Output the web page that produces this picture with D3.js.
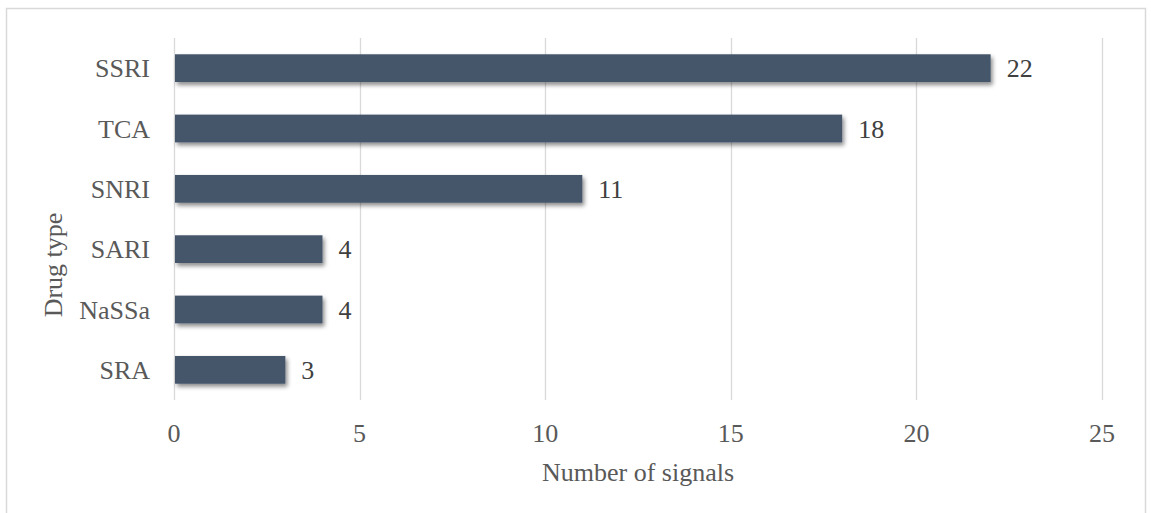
<!DOCTYPE html>
<html>
<head>
<meta charset="utf-8">
<script src="https://cdn.jsdelivr.net/npm/d3@7"></script>
<style>
  body { margin: 0; background: #fff; }
  text { font-family: "Liberation Serif", "Times New Roman", serif; }
</style>
</head>
<body>
<div id="plotDiv"></div>
<script>
var drugTypes = ["SSRI", "TCA", "SNRI", "SARI", "NaSSa", "SRA"];
var signalCounts = [22, 18, 11, 4, 4, 3];
var xTicks = [0, 5, 10, 15, 20, 25];

window.addEventListener("load", makeChart);

function makeChart() {
    var widthSVG = 1151, heightSVG = 513;
    var margin = {top: 38, right: 49, bottom: 113, left: 174};
    var fontSize = 26;

    var svg = d3.select("#plotDiv")
        .append("svg")
        .attr("width", widthSVG)
        .attr("height", heightSVG);

    var defs = svg.append("defs");
    var shadow = defs.append("filter")
        .attr("id", "barShadow")
        .attr("x", "-10%").attr("y", "-30%")
        .attr("width", "130%").attr("height", "190%");
    shadow.append("feDropShadow")
        .attr("dx", 2).attr("dy", 3)
        .attr("stdDeviation", 2)
        .attr("flood-color", "#000")
        .attr("flood-opacity", 0.45);

    // chart frame
    svg.append("rect")
        .attr("x", 6.5).attr("y", 8.5)
        .attr("width", 1139).attr("height", 520)
        .attr("fill", "none")
        .attr("stroke", "#d9d9d9")
        .attr("stroke-width", 1.5);

    var x = d3.scaleLinear()
        .domain([0, 25])
        .range([margin.left, widthSVG - margin.right]);

    var y = d3.scaleBand()
        .domain(drugTypes)
        .range([margin.top, heightSVG - margin.bottom])
        .paddingInner(0.54)
        .paddingOuter(0.27);

    // vertical gridlines
    svg.append("g")
        .selectAll("line")
        .data(xTicks)
        .enter()
        .append("line")
          .attr("x1", function(d) { return Math.round(x(d)) + 0.5; })
          .attr("x2", function(d) { return Math.round(x(d)) + 0.5; })
          .attr("y1", margin.top)
          .attr("y2", heightSVG - margin.bottom)
          .attr("stroke", "#d9d9d9")
          .attr("stroke-width", 1.3);

    // bars
    svg.append("g")
        .selectAll("rect")
        .data(drugTypes)
        .enter()
        .append("rect")
          .attr("x", x(0) + 1)
          .attr("y", function(d) { return y(d); })
          .attr("width", function(d, i) { return x(signalCounts[i]) - x(0) - 1; })
          .attr("height", y.bandwidth())
          .attr("fill", "#44546a")
          .attr("filter", "url(#barShadow)");

    // value labels
    svg.append("g")
        .selectAll("text")
        .data(drugTypes)
        .enter()
        .append("text")
          .attr("x", function(d, i) { return x(signalCounts[i]) + 16; })
          .attr("y", function(d) { return y(d) + y.bandwidth() / 2; })
          .attr("dy", "0.35em")
          .attr("font-size", fontSize)
          .attr("fill", "#404040")
          .text(function(d, i) { return signalCounts[i]; });

    // category labels
    svg.append("g")
        .selectAll("text")
        .data(drugTypes)
        .enter()
        .append("text")
          .attr("x", 150)
          .attr("y", function(d) { return y(d) + y.bandwidth() / 2; })
          .attr("dy", "0.35em")
          .attr("text-anchor", "end")
          .attr("font-size", fontSize)
          .attr("fill", "#595959")
          .text(function(d) { return d; });

    // x tick labels
    svg.append("g")
        .selectAll("text")
        .data(xTicks)
        .enter()
        .append("text")
          .attr("x", function(d) { return x(d); })
          .attr("y", 442)
          .attr("text-anchor", "middle")
          .attr("font-size", fontSize)
          .attr("fill", "#595959")
          .text(function(d) { return d; });

    // axis titles
    svg.append("text")
        .attr("x", (x(0) + x(25)) / 2)
        .attr("y", 481)
        .attr("text-anchor", "middle")
        .attr("font-size", fontSize)
        .attr("fill", "#595959")
        .text("Number of signals");

    svg.append("text")
        .attr("transform", "translate(62,265) rotate(-90)")
        .attr("text-anchor", "middle")
        .attr("font-size", fontSize)
        .attr("fill", "#595959")
        .text("Drug type");
}
</script>
</body>
</html>
